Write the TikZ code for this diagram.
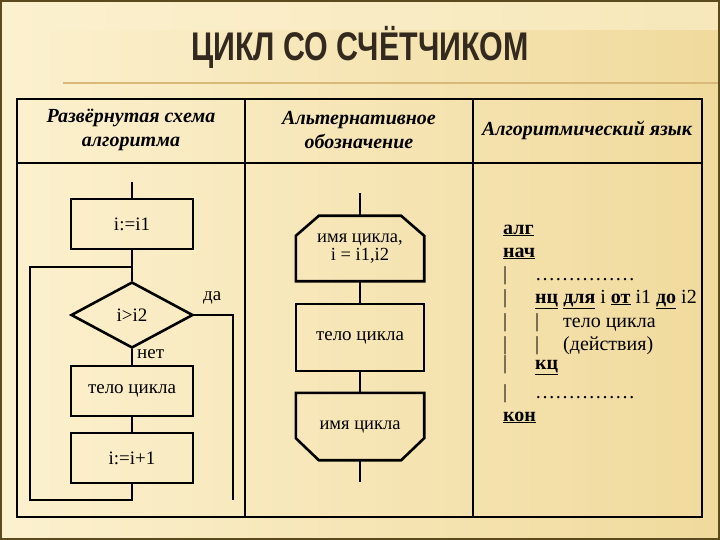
\documentclass[tikz,border=0pt]{standalone}
\usepackage{fontspec}
\setmainfont{Liberation Serif}
\newfontfamily\titlefont[FakeStretch=0.76]{Liberation Sans}
\usetikzlibrary{shapes.geometric,calc}
\definecolor{bgA}{HTML}{FCF1CF}
\definecolor{bgB}{HTML}{F0DA9C}
\definecolor{frameC}{HTML}{5B4A1E}
\definecolor{decoC}{HTML}{D9B97A}
\definecolor{titleC}{HTML}{33291F}
\tikzset{
  fc/.style={line width=2.6pt},
  tb/.style={line width=1.3pt},
  box/.style={draw, line width=2.6pt, minimum width=122pt, minimum height=50pt, inner sep=0pt, font=\fontsize{19}{21}\selectfont},
  dia/.style={draw, diamond, line width=2.6pt, minimum width=122pt, minimum height=66pt, inner sep=0pt, font=\fontsize{19}{21}\selectfont},
  lbl/.style={font=\fontsize{19}{21}\selectfont, inner sep=0pt},
  hdr/.style={font=\fontsize{20}{24}\selectfont\bfseries\itshape, align=center, inner sep=0pt},
  alg/.style={font=\fontsize{20}{22}\selectfont, anchor=base west, inner sep=0pt},
  hex/.style={minimum width=128pt, inner sep=0pt, align=center, font=\fontsize{18.5}{17.5}\selectfont}
}
\newcommand{\kw}[1]{\underline{\textbf{#1}}}
\newcommand{\obar}{\makebox[32pt][l]{|}}
\newcommand{\ibar}{\makebox[28pt][l]{|}}
\begin{document}
\begin{tikzpicture}[x=1pt,y=-1pt]
\useasboundingbox (0,0) rectangle (720,540);
% background
\shade[left color=bgA, right color=bgB] (0,0) rectangle (720,540);
\shade[top color=bgA, bottom color=bgA, opacity=0.6] (0,0) rectangle (720,30);
\draw[frameC, line width=2pt] (1,1) rectangle (719,539);
\draw[decoC, line width=1.5pt] (63,83) -- (718,83);
% title
\node[font=\titlefont\fontsize{40}{42}\selectfont\bfseries, text=titleC] (title) at (360,47) {ЦИКЛ СО СЧЁТЧИКОМ};
% table
\draw[tb] (17,99) rectangle (702,517);
\draw[tb] (17,163) -- (702,163);
\draw[tb] (245,99) -- (245,517);
\draw[tb] (473,99) -- (473,517);
\node[hdr] (h1t) at (131,130) {Развёрнутая схема\\алгоритма};
\node[hdr] (h2t) at (359,130) {Альтернативное\\обозначение};
\node[hdr] (h3t) at (587,130) {Алгоритмический язык};
% column 1
\coordinate (s1) at (132,182);
\node[box] (b1) at (132,224) {i:=i1};
\node[dia] (d1) at (132,315) {i>i2};
\node[box] (b2) at (132,391) {тело цикла};
\node[box] (b3) at (132,458) {i:=i+1};
\coordinate (j1) at (132,267);
\coordinate (p1) at (132,500);
\coordinate (p2) at (30,500);
\coordinate (p3) at (30,267);
\coordinate (y1) at (233,315);
\coordinate (y2) at (233,500);
\draw[fc] (s1) -- (b1.north);
\draw[fc] (b1.south) -- (d1.north);
\draw[fc] (d1.south) -- (b2.north);
\draw[fc] (b2.south) -- (b3.north);
\draw[fc] (b3.south) -- (p1) -- (p2) -- (p3) -- (j1);
\draw[fc] (d1.east) -- (y1) -- (y2);
\node[lbl, anchor=west] (yes) at (203,298) {да};
\node[lbl, anchor=west] (no) at (137,354) {нет};
% column 2
\coordinate (s2) at (360,193);
\node[hex, minimum height=65pt] (ha) at (360,248.5) {имя цикла,\\i = i1,i2};
\node[box, minimum width=128pt, minimum height=67pt] (b4) at (360,337.5) {тело цикла};
\node[hex, minimum height=67pt] (hb) at (360,426.5) {имя цикла};
\coordinate (e2) at (360,482);
\draw[fc, line join=miter] (ha.south west) -- ($(ha.north west)+(0,20)$) -- ($(ha.north west)+(23,0)$) -- ($(ha.north east)+(-23,0)$) -- ($(ha.north east)+(0,20)$) -- (ha.south east) -- cycle;
\draw[fc, line join=miter] (hb.north west) -- ($(hb.south west)+(0,-22)$) -- ($(hb.south west)+(23,0)$) -- ($(hb.south east)+(-23,0)$) -- ($(hb.south east)+(0,-22)$) -- (hb.north east) -- cycle;
\draw[fc] (s2) -- (ha.north);
\draw[fc] (ha.south) -- (b4.north);
\draw[fc] (b4.south) -- (hb.north);
\draw[fc] (hb.south) -- (e2);
% column 3
\node[alg] (l1) at (503,234) {\kw{алг}};
\node[alg] (l2) at (503,257) {\kw{нач}};
\node[alg] (l3) at (503,280) {\obar……………};
\node[alg] (l4) at (503,303) {\obar\kw{нц} \kw{для} i \kw{от} i1 \kw{до} i2};
\node[alg] (l5) at (503,327) {\obar\ibar тело цикла};
\node[alg] (l6) at (503,350) {\obar\ibar(действия)};
\node[alg] (l7) at (503,369) {\obar\kw{кц}};
\node[alg] (l8) at (503,398) {\obar……………};
\node[alg] (l9) at (503,421) {\kw{кон}};
\end{tikzpicture}
\end{document}
